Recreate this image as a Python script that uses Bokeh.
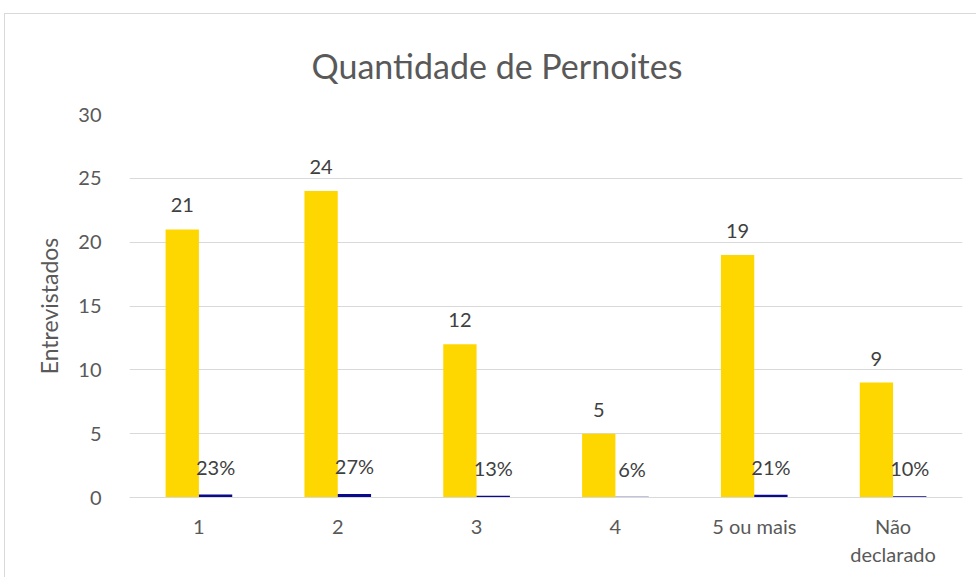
from bokeh.plotting import figure
from bokeh.models import ColumnDataSource, FactorRange, Range1d
from bokeh.transform import dodge
from bokeh.core.properties import value
from bokeh.embed import file_html
from bokeh.resources import INLINE

title_text = "Quantidade de Pernoites"
categories = ["1", "2", "3", "4", "5 ou mais", "Não\ndeclarado"]
counts = [21, 24, 12, 5, 19, 9]
shares = [0.23, 0.27, 0.13, 0.06, 0.21, 0.10]
share_labels = ["23%", "27%", "13%", "6%", "21%", "10%"]
y_ticks = [0, 5, 10, 15, 20, 25, 30]

FONT = "Lato"
src = ColumnDataSource(dict(cat=categories, count=counts, share=shares,
                            count_lbl=[str(c) for c in counts], share_lbl=share_labels))

p = figure(width=972, height=564, x_range=FactorRange(*categories), y_range=Range1d(0, 30),
           output_backend="svg", toolbar_location=None, title=title_text,
           min_border_left=124, min_border_right=15, min_border_top=100, min_border_bottom=81)

p.vbar(x=dodge("cat", -0.12, range=p.x_range), top="count", width=0.24, source=src,
       fill_color="#FFD700", line_color=None)
p.vbar(x=dodge("cat", 0.12, range=p.x_range), top="share", width=0.24, source=src,
       fill_color="#0A0A8C", line_color=None)

p.text(x=dodge("cat", -0.12, range=p.x_range), y="count", text="count_lbl", source=src,
       text_font=value(FONT), text_font_size="20px", text_color="#404040",
       text_align="center", text_baseline="bottom", y_offset=-17)
p.text(x=dodge("cat", 0.12, range=p.x_range), y="share", text="share_lbl", source=src,
       text_font=value(FONT), text_font_size="20px", text_color="#404040",
       text_align="center", text_baseline="bottom", y_offset=-16)

p.title.text_font = FONT
p.title.text_font_size = "34px"
p.title.text_font_style = "normal"
p.title.text_color = "#595959"
p.title.align = "left"
p.title.offset = 182
p.title.vertical_align = "top"
p.title.standoff = 54

p.yaxis.ticker = y_ticks
p.yaxis.axis_label = "Entrevistados"
p.yaxis.axis_label_text_font = FONT
p.yaxis.axis_label_text_font_size = "23px"
p.yaxis.axis_label_text_font_style = "normal"
p.yaxis.axis_label_text_color = "#595959"
p.yaxis.axis_label_standoff = 12
p.yaxis.axis_line_color = None
p.yaxis.major_tick_line_color = None
p.yaxis.minor_tick_line_color = None
p.yaxis.major_label_text_font = FONT
p.yaxis.major_label_text_font_size = "20px"
p.yaxis.major_label_text_color = "#595959"
p.yaxis.major_label_standoff = 22

p.xaxis.axis_line_color = "#d9d9d9"
p.xaxis.axis_line_width = 1
p.xaxis.major_tick_line_color = None
p.xaxis.minor_tick_line_color = None
p.xaxis.major_label_text_font = FONT
p.xaxis.major_label_text_font_size = "20px"
p.xaxis.major_label_text_color = "#595959"
p.xaxis.major_label_standoff = 10

p.xgrid.grid_line_color = None
p.ygrid.grid_line_color = "#d9d9d9"
p.outline_line_color = None
p.x_range.range_padding = 0
p.styles = {"border-left": "1px solid #d9d9d9", "border-top": "1px solid #d9d9d9",
            "margin-left": "4px", "margin-top": "13px"}

open("out.html", "w").write(file_html(p, INLINE))
